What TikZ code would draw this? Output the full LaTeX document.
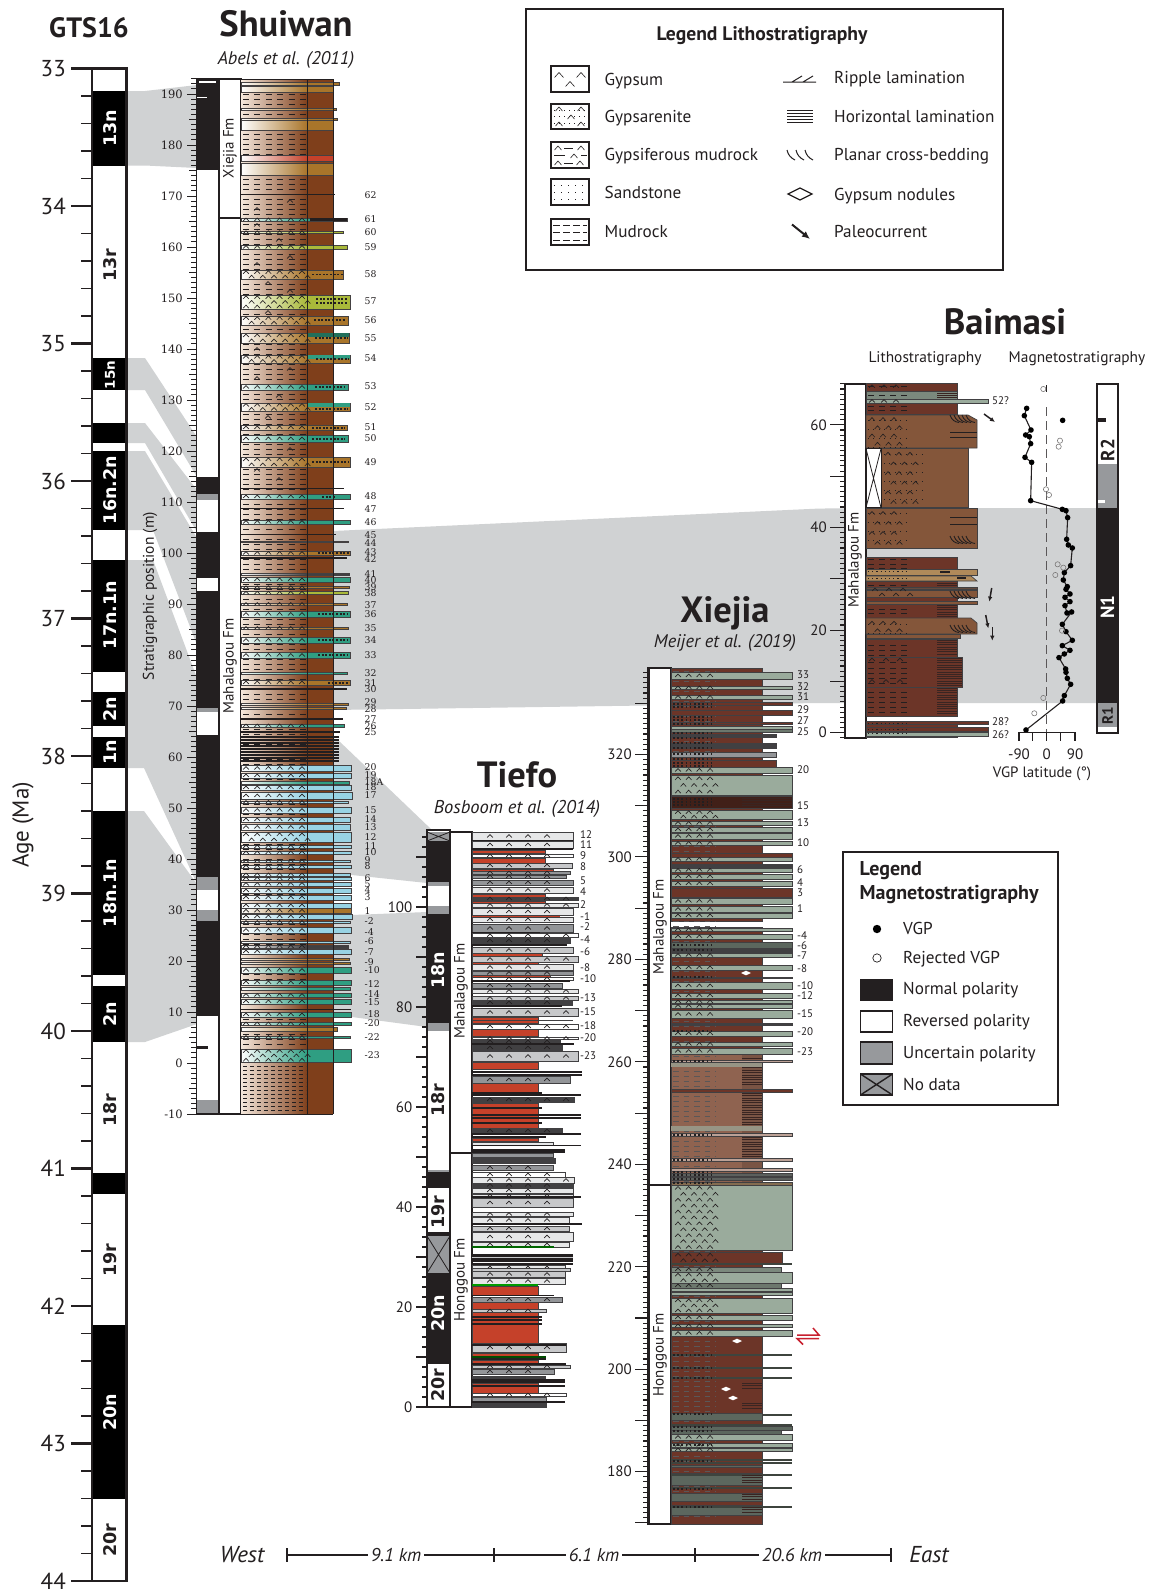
\documentclass[tikz,border=0pt]{standalone}
\usepackage{fontspec}
\setmainfont{PT Sans}
\newfontfamily\vfont{DejaVu Sans}
\newfontfamily\sfont{DejaVu Serif}
\usetikzlibrary{arrows.meta}
\definecolor{ink}{HTML}{231F20}
\definecolor{band}{HTML}{D0D2D3}
\definecolor{brS}{HTML}{7F3F1B}
\definecolor{brM}{HTML}{C99A72}
\definecolor{brL}{HTML}{F5E8DC}
\definecolor{tealS}{HTML}{2F9E82}
\definecolor{blueS}{HTML}{98D3E4}
\definecolor{ochre}{HTML}{A9752A}
\definecolor{limeS}{HTML}{A9B93A}
\definecolor{redS}{HTML}{C5412A}
\definecolor{sage}{HTML}{9AAB9C}
\definecolor{dkb}{HTML}{6C3528}
\definecolor{ltb}{HTML}{8F6350}
\definecolor{mdb}{HTML}{84563A}
\definecolor{tanb}{HTML}{B08A5A}
\definecolor{tl}{HTML}{E6E7E8}
\definecolor{tm}{HTML}{C7C8CA}
\definecolor{td}{HTML}{939598}
\definecolor{tk}{HTML}{414042}
\definecolor{pol}{HTML}{97999C}
\definecolor{faultr}{HTML}{C8202F}
\newcommand\fsz[1]{\fontsize{#1}{#1}\selectfont}
\tikzset{
 crt/.style={ink,line width=.65pt},
 lbl/.style={inner sep=0pt,text=ink},
 legt/.style={lbl,anchor=base west,font=\fsz{17.2}},
 legb/.style={lbl,anchor=base west,font=\bfseries\fsz{20}},
}
% carets: x0,step,xend,top,bot,rowh
\newcommand\carets[6]{%
 \pgfmathtruncatemacro\nr{max(1,round((#5-#4)/#6))}%
 \pgfmathsetmacro\rh{(#5-#4)/\nr}%
 \pgfmathsetmacro\xaa{#1}%
 \pgfmathsetmacro\xbb{\xaa+#2}%
 \pgfmathsetmacro\xee{#3}%
 \foreach \rr in {1,...,\nr}{%
  \pgfmathsetmacro\yy{#4+(\rr-0.5)*\rh}%
  \pgfmathsetmacro\ofs{mod(\rr,2)==0 ? #2/2 : 0}%
  \foreach \xx in {\xaa,\xbb,...,\xee}{%
   \draw[crt] (\xx+\ofs-2.8,\yy+1.5)--(\xx+\ofs,\yy-1.5)--(\xx+\ofs+2.8,\yy+1.5);
  }}}
\newcommand\lam[5]{\foreach \yy in {#3,#4,...,#5}{\draw[ink!70!dkb,line width=.45pt] (#1,\yy)--(#2,\yy);}}
% Shuiwan beds
\newcommand\sbed[4]{%
 \shade[left color=white,right color=#4] (241,#1) rectangle (307,#2);
 \fill[#4] (307,#1) rectangle (#3,#2);
 \draw[ink!85,line width=.6pt] (241,#1) rectangle (#3,#2);}
\newcommand\sbedg[4]{\sbed{#1}{#2}{#3}{#4}\carets{246}{11.2}{303}{#1}{#2}{5}}
\newcommand\sln[3]{\draw[ink,line width=#3pt] (241,#1)--(#2,#1);}
\newcommand\slab[2]{\node[lbl,anchor=west,font=\sfont\fsz{9.3}] (sw#1) at (364.5,#2) {#1};}
% Tiefo beds
\newcommand\tbed[4]{\filldraw[fill=#4,draw=tk,line width=.7pt] (472,#1) rectangle (#3,#2);}
\newcommand\tbedg[4]{\tbed{#1}{#2}{#3}{#4}\carets{490}{19}{#3-8}{#1}{#2}{8}}
\newcommand\tln[2]{\draw[ink,line width=1.1pt] (472,#1)--(#2,#1);}
\newcommand\tlab[2]{\node[lbl,anchor=west,font=\fsz{11}] (tf#1) at (580,#2) {#1};}
% Xiejia beds
\newcommand\xjb[4]{\filldraw[fill=#4,draw=tk,line width=.7pt] (671,#1) rectangle (#3,#2);}
\newcommand\xjbg[4]{\xjb{#1}{#2}{#3}{#4}\carets{678}{10.7}{712}{#1}{#2}{6}}
\newcommand\xjln[1]{\draw[sage!40!black,line width=1.8pt] (671,#1)--(792,#1);}
\newcommand\xlab[2]{\node[lbl,anchor=west,font=\fsz{11}] (xj#1) at (797,#2) {#1};}
\newcommand\dotrow[2]{\draw[ink,line width=1.1pt,dash pattern=on 1.6pt off 2.6pt] (673,#1)--(#2,#1);}
% Baimasi beds
\newcommand\bbd[4]{\filldraw[fill=#4,draw=tk,line width=.7pt] (866,#1) rectangle (#3,#2);}
\newcommand\xcross[4]{\foreach \xx in {#1,#2,...,#3}{\draw[ink,line width=.9pt] (\xx,#4) .. controls (\xx+1.5,#4+5) and (\xx+5,#4+7) .. (\xx+9,#4+7.5);}}
\begin{document}
\begin{tikzpicture}[x=1pt,y=-1pt]
\useasboundingbox (0,0) rectangle (1151,1591);
\fill[white] (0,0) rectangle (1151,1591);
%% correlation bands
\fill[band] (127,91)--(145,91)--(197,85)--(197,168)--(145,165.5)--(127,165.5)--cycle;
\fill[band] (127,358)--(145,358)--(197,437)--(197,477)--(145,390)--(127,390)--cycle;
\fill[band] (127,423)--(145,423)--(197,490)--(197,532)--(145,443)--(127,443)--cycle;
\fill[band] (127,451)--(145,451)--(197,538)--(197,645)--(153,530)--(127,530)--cycle;
\fill[band] (127,560)--(153,560)--(197,678)--(197,884)--(144,768)--(127,768)--cycle;
\fill[band] (127,811)--(144,811)--(197,884)--(197,1024)--(145,1042)--(127,1042)--cycle;
\fill[band] (333,531)--(820,508.5)--(1097,508)--(1097,703)--(820,703)--(333,710)--cycle;
\fill[band] (325,735)--(338,740)--(432,830)--(427,883)--(352,875)--(325,872)--cycle;
\fill[band] (325,916)--(352,915)--(427,912)--(427,1027)--(352,1017)--(325,1014)--cycle;
%% GTS column
\node[lbl,font=\bfseries\fsz{28}] (gtst) at (89,27.5) {GTS16};
\foreach \m in {33,...,44}{
 \pgfmathsetmacro\yy{68.5+(\m-33)*137.5}
 \draw[ink,line width=2.4pt] (71,\yy)--(92,\yy);
 \node[lbl,anchor=east,font=\fsz{23}] (age\m) at (66,\yy) {\m};
}
\foreach \k in {0,...,55}{
 \pgfmathsetmacro\yy{68.5+\k*27.5}
 \draw[ink,line width=1.6pt] (81,\yy)--(92,\yy);
}
\fill[white] (92,68.5) rectangle (126.5,1581);
\foreach \a/\b in {90.5/165.5,358/390,423/443,451/530,560/672,692/726,737/768,811/975,986/1042,1173/1194,1325/1499}{
 \fill[black] (92,\a) rectangle (126.5,\b);
}
\draw[ink,line width=2.6pt] (92,68.5) rectangle (126.5,1581);
\foreach \t/\y/\c in {13n/128/white,13r/265/ink,16n.2n/490/white,17n.1n/615/white,2n/709/white,1n/752/white,18n.1n/893/white,2n/1014/white,18r/1110/ink,19r/1260/ink,20n/1412/white,20r/1540/ink}{
 \node[inner sep=0pt,rotate=90,text=\c,font=\vfont\bfseries\fsz{17.5}] (gp\y) at (110,\y) {\t};
}
\node[inner sep=0pt,rotate=90,text=white,font=\vfont\bfseries\fsz{13.5}] (gp375) at (110,375) {15n};
\node[lbl,rotate=90,font=\fsz{23}] (agelab) at (23,825) {Age (Ma)};
%% Shuiwan
\node[lbl,font=\bfseries\fsz{36.5}] (swt) at (286,24) {Shuiwan};
\node[lbl,font=\itshape\fsz{18.3}] (swc) at (286,60) {Abels et al. (2011)};
\node[lbl,rotate=90,font=\fsz{15.5}] (strat) at (150,596) {Stratigraphic position (m)};
\foreach \m in {-10,...,193}{
 \pgfmathsetmacro\yy{1063-5.1*\m}
 \draw[ink,line width=1pt] (191,\yy)--(196.5,\yy);
}
\foreach \m in {-5,5,...,185}{
 \pgfmathsetmacro\yy{1063-5.1*\m}
 \draw[ink,line width=1pt] (189,\yy)--(196.5,\yy);
}
\foreach \m in {-10,0,...,190}{
 \pgfmathsetmacro\yy{1063-5.1*\m}
 \draw[ink,line width=1pt] (187,\yy)--(196.5,\yy);
 \node[lbl,anchor=east,font=\sfont\fsz{11.5}] (swa\m) at (183,\yy) {\m};
}
\fill[white] (196.5,79) rectangle (219,1114);
\foreach \a/\b in {79/170,477/494,532/578,591/708,735/877,921/1016}{
 \fill[ink] (196.5,\a) rectangle (219,\b);
}
\foreach \a/\b in {494/500,708/712,877/890,910/921,1100/1113}{
 \fill[pol] (196.5,\a) rectangle (219,\b);
}
\fill[white] (199,81) rectangle (216,82.5);
\fill[white] (197,96.5) rectangle (207,98);
\fill[ink] (197,1046) rectangle (208,1048.5);
\draw[ink,line width=1.8pt] (196.5,79) rectangle (219,1114);
\filldraw[fill=white,draw=ink,line width=1.8pt] (219,79) rectangle (241,1114);
\draw[ink,line width=1.8pt] (219,217.6)--(241,217.6);
\node[lbl,rotate=90,font=\fsz{15}] (swf1) at (230,148) {Xiejia Fm};
\node[lbl,rotate=90,font=\fsz{15}] (swf2) at (230,666) {Mahalagou Fm};
% lithology
\shade[left color=brL,middle color=brM,right color=brS] (241,79) rectangle (307,1114);
\fill[brS] (307,79) rectangle (333,1114);
\foreach \yy in {84,89,...,1060}{\draw[ink,line width=.8pt,dash pattern=on 6pt off 5.4pt] (243,\yy)--(306,\yy);}
\foreach \yy in {1066,1070,...,1112}{\draw[ink,line width=.9pt,dash pattern=on 4pt off 3pt] (243,\yy)--(306,\yy);}
\foreach \a/\b in {257/209,290/201,257/225,279/240,290/257,257/264,268/283,290/291,268/312,257/349,290/369,257/378,279/396,268/417,290/449,257/470,279/479}{
 \draw[crt] (\a-2.8,\b+1.5)--(\a,\b-1.5)--(\a+2.8,\b+1.5);
}
\sbed{82.5}{85.5}{339}{ochre}\sbed{86}{92}{333}{ochre}
\sbed{108}{110}{336}{ochre}\sbed{118}{120}{337}{ochre}\sbed{120}{130}{333}{ochre}
\sbed{155}{161}{333}{redS}\sbed{163}{175}{333}{ochre}
\sln{194}{335}{.8}
\sbedg{218}{221}{347}{tealS}\draw[ink,line width=3pt] (310,219.5)--(347,219.5);
\sbedg{231}{233.5}{343}{limeS}\sbedg{245}{249}{347}{limeS}
\sbedg{270}{279}{343}{ochre}\sbedg{295}{309}{350}{limeS}\sbedg{316}{325}{348}{ochre}
\sbedg{333}{343}{349}{ochre}\fill[tealS!70!black] (307,333) rectangle (349,336.5);
\sbedg{355}{363}{350}{ochre}\fill[tealS] (307,355) rectangle (350,358.5);
\sbedg{384}{390}{348}{tealS}\sbedg{403}{411}{350}{ochre}\fill[tealS] (307,403) rectangle (350,407);
\sbedg{425}{430}{347}{ochre}\sbedg{435}{442}{348}{tealS}\sbedg{457}{467}{350}{ochre}
\sln{488.5}{344}{.8}\sbedg{494}{499}{350}{tealS}\sln{508}{344}{.8}\sbedg{520}{524}{350}{tealS}
\sln{534.5}{336}{.9}\sbed{541}{542.5}{348}{tk}\sbedg{551}{555}{350}{ochre}\sln{558}{347}{1.2}
\sbed{573}{575}{349}{tk}\sbedg{577}{582}{350}{tealS}\sbedg{586}{588.5}{349}{ochre}\sbedg{591}{594.5}{348}{limeS}
\sbedg{603}{605}{347}{ochre}\sbedg{611}{617}{350}{tealS}\sbedg{627}{629}{348}{ochre}\sbedg{637}{643}{350}{tealS}
\sbedg{652}{658}{350}{tealS}\sbed{672}{674}{347}{tealS}\sbedg{680}{685}{350}{ochre}\sln{689}{347}{1.6}
\sbed{703}{705}{348}{ochre}\sbed{707}{709}{346}{ochre}\sln{719}{343}{1.2}\sbedg{724}{727}{344}{tealS}\sln{732}{340}{1.2}
\foreach \yy in {737,740,...,763}{\draw[ink,line width=1.2pt] (241,\yy)--(339,\yy);}
\sbedg{765}{771}{351}{blueS}\sbedg{773}{778}{351}{blueS}\sbed{781}{784}{349}{tealS}
\sbedg{785}{790}{351}{blueS}\sbedg{792}{799}{352}{blueS}\sbedg{801}{803}{348}{blueS}
\sbedg{807}{813}{351}{blueS}\sbedg{817}{822}{350}{blueS}\sbedg{824}{830}{350}{blueS}
\sbedg{832}{842}{351}{blueS}\sbedg{845}{848}{351}{blueS}\sbedg{851}{854}{351}{blueS}
\sbedg{860}{862}{350}{blueS}\sbedg{865}{868}{351}{blueS}\sbedg{873}{876}{350}{blueS}
\sbedg{877}{880}{351}{blueS}\sbedg{882}{886}{351}{blueS}\sbedg{888}{893}{351}{blueS}
\sbedg{895}{900}{351}{blueS}\sbedg{903}{908}{351}{blueS}\sbedg{908.5}{913}{351}{ochre}
\sbedg{914}{919}{352}{blueS}\sbedg{921}{923}{350}{blueS}\sbedg{927}{933}{351}{blueS}
\sbed{941}{943}{350}{blueS}\sbedg{945}{948}{348}{tk}\sbedg{949}{954}{351}{blueS}
\sbed{958}{960}{349}{ochre}\sbed{962}{964}{350}{ochre}\sbedg{967}{973}{351}{tealS}
\sbedg{980}{985}{351}{tealS}\sbed{987}{990}{350}{tealS}\sbedg{993}{997}{351}{tealS}\sbedg{999}{1004}{351}{tealS}
\sln{1009.5}{351}{1.2}\sbedg{1012}{1017}{351}{tealS}\sbedg{1022}{1025}{351}{tealS}\sbed{1027}{1031}{337}{ochre}
\sbedg{1036}{1038}{350}{tealS}\sbedg{1049}{1062}{351}{tealS}
\foreach \a/\b/\c in {274.5/312/343,299/316/347,303/316/347,320/314/346,338/315/348,359/316/349,387/315/345,409/315/348,428/312/345,439/312/345,462/312/349,497/322/336,553/318/349,614/318/348,640/318/348,655/318/348,683/328/348}{
 \draw[ink,line width=1.2pt,dash pattern=on 2pt off 1.6pt] (\b,\a)--(\c,\a);
}
\draw[ink,line width=.9pt] (307,79)--(307,1114);
\draw[ink,line width=.9pt] (241,79)--(333,79);
\draw[ink,line width=.9pt] (333,79)--(333,1114);
\draw[ink,line width=1pt] (241,1114)--(333,1114);
\slab{62}{195}\slab{61}{219}\slab{60}{232}\slab{59}{247}\slab{58}{274.5}\slab{57}{301}\slab{56}{320}\slab{55}{338}\slab{54}{358.6}\slab{53}{386.6}\slab{52}{407}\slab{51}{427.6}\slab{50}{438}\slab{49}{462}\slab{48}{496}\slab{47}{509}\slab{46}{522}\slab{45}{535.6}\slab{44}{543}\slab{43}{552.5}\slab{42}{559}\slab{41}{573.6}\slab{40}{580}\slab{39}{587.5}\slab{38}{593.5}\slab{37}{605}\slab{36}{614}\slab{35}{628}\slab{34}{640}\slab{33}{655}\slab{32}{673}\slab{31}{683}\slab{30}{689}\slab{29}{702.6}\slab{28}{709}\slab{27}{719}\slab{26}{726}\slab{25}{732}\slab{20}{767}\slab{19}{775.6}\slab{18A}{782.6}\slab{18}{787.6}\slab{17}{795}\slab{15}{810}\slab{14}{819}\slab{13}{827.6}\slab{12}{837}\slab{11}{846}\slab{10}{852}\slab{9}{860.6}\slab{8}{866}\slab{6}{878}\slab{5}{884}\slab{4}{890}\slab{3}{897}\slab{1}{911}\slab{-2}{921}\slab{-4}{932}\slab{-6}{941}\slab{-7}{952}\slab{-9}{962}\slab{-10}{970}\slab{-12}{984}\slab{-14}{994}\slab{-15}{1002}\slab{-18}{1014}\slab{-20}{1023}\slab{-22}{1037}\slab{-23}{1055}
%% Tiefo
\node[lbl,font=\bfseries\fsz{36.5}] (tft) at (517,775) {Tiefo};
\node[lbl,font=\itshape\fsz{18.5}] (tfc) at (517,809) {Bosboom et al. (2014)};
\foreach \m in {0,2,...,114}{
 \pgfmathsetmacro\yy{1407-5*\m}
 \draw[ink,line width=1.2pt] (422,\yy)--(427,\yy);
}
\foreach \m in {0,10,...,110}{
 \pgfmathsetmacro\yy{1407-5*\m}
 \draw[ink,line width=1.2pt] (416,\yy)--(427,\yy);
}
\foreach \m in {0,20,...,100}{
 \pgfmathsetmacro\yy{1407-5*\m}
 \node[lbl,anchor=east,font=\fsz{15}] (tfa\m) at (412.5,\yy) {\m};
}
\fill[white] (427,830) rectangle (450,1407);
\foreach \a/\b in {841/882,914/1023,1172/1188,1232/1236,1273/1364}{\fill[ink] (427,\a) rectangle (450,\b);}
\foreach \a/\b in {832/841,882/886,906/914,1023/1031,1170/1172,1236/1273}{\fill[pol] (427,\a) rectangle (450,\b);}
\draw[ink,line width=.8pt] (427,832)--(450,841) (427,841)--(450,832) (427,1236)--(450,1273) (427,1273)--(450,1236);
\draw[ink,line width=1.8pt] (427,830) rectangle (450,1407);
\foreach \t/\y/\c in {18n/970/white,18r/1100/ink,19r/1212/ink,20n/1313/white,20r/1385/ink}{
 \node[inner sep=0pt,rotate=90,text=\c,font=\vfont\bfseries\fsz{17.5}] (tfp\t) at (438.5,\y) {\t};
}
\filldraw[fill=white,draw=ink,line width=1.8pt] (450,832) rectangle (472,1407);
\draw[ink,line width=1.8pt] (450,1152.7)--(472,1152.7);
\node[lbl,rotate=90,font=\fsz{15}] (tff1) at (461,991) {Mahalagou Fm};
\node[lbl,rotate=90,font=\fsz{15}] (tff2) at (461,1280) {Honggou Fm};
\tbedg{832}{840}{573}{tl}\tln{840.5}{573}
\tbedg{841}{848}{573}{tl}\tln{849}{573}
\tbed{850}{853}{545}{redS}\tbedg{854}{857}{573}{white}
\tbed{858}{863}{545}{redS}\tbedg{863}{868}{572}{tm}
\tbed{869}{871}{553}{redS}\tbedg{871}{874}{570}{td}\tbedg{875}{878}{566}{td}
\tbedg{880}{885}{573}{td}\tbedg{887}{893}{573}{tl}\tbed{894}{897}{545}{redS}
\tbedg{897}{900}{578}{tk}\tbed{901}{903}{545}{redS}\tbedg{903}{907}{578}{tl}
\tbedg{908}{915}{573}{tl}\tbedg{917}{922}{573}{tl}\draw[redS,line width=.8pt] (472,916)--(560,916);
\tbedg{924}{932}{573}{td}\tln{933}{540}\tbedg{933.5}{937}{578}{white}
\tbedg{938}{943}{570}{tk}\tln{945}{567}\tbedg{947}{953}{573}{tm}\tbed{953}{956}{542}{redS}
\tbedg{956}{962}{578}{tm}\tbed{962}{964}{538}{redS}\tbedg{964}{970}{573}{tl}
\tbedg{971}{975}{573}{td}\tbed{975}{977}{550}{redS}\tbedg{977}{980}{573}{white}
\tln{981}{570}\tbedg{983}{988}{562}{td}\tbedg{989}{993}{578}{tl}\tbedg{996}{1000}{578}{tm}
\tbedg{1000}{1005}{572}{tk}\tln{1006}{562}\tbedg{1008}{1016}{578}{tm}
\tbed{1017}{1020}{538}{redS}\tbed{1020}{1023}{538}{redS}\draw[tk,line width=.8pt] (538,1020)--(573,1020);
\tbedg{1024}{1029}{578}{white}\tbed{1029}{1036}{538}{redS}\tbedg{1037}{1039}{578}{white}
\tbedg{1040}{1043}{560}{tk}\tln{1044}{574}\tbedg{1045}{1050}{562}{tk}
\tbedg{1051}{1061}{578}{tm}\tbed{1062}{1069}{538}{redS}
\draw[ink,line width=2.4pt] (472,1072)--(582,1072);\draw[ink,line width=1.2pt] (472,1075)--(582,1075);
\tbedg{1076}{1083}{570}{td}\tbed{1083}{1092}{538}{redS}
\tln{1093}{542}\tln{1095}{581}\tbedg{1097}{1102}{574}{tk}\tbed{1103}{1128}{538}{redS}
\tln{1108}{542}\tln{1115}{581}\tln{1118}{581}\tln{1123}{542}
\tbedg{1128}{1133}{562}{tk}\draw[ink,line width=2pt] (472,1134)--(581,1134);\tln{1137}{546}\tbed{1138}{1141}{538}{redS}
\tbed{1142}{1145}{553}{tl}\tln{1145.5}{581}\draw[ink,line width=4pt] (472,1150.5)--(565,1150.5);
\tbed{1153}{1157}{553}{td}\tbed{1158}{1163}{555}{tk}\tbedg{1165}{1170}{553}{td}
\tbedg{1172}{1177}{565}{white}\tbedg{1177}{1183}{574}{tl}\tbedg{1183}{1187}{573}{tk}
\tbedg{1188}{1193}{573}{tl}\tbedg{1194}{1197}{573}{tl}\tln{1197}{581}\tbedg{1198}{1207}{573}{tm}
\tbedg{1212}{1216}{573}{tl}\tbedg{1217}{1223}{569}{tl}\tln{1224}{582}\tbedg{1226}{1231}{569}{tm}
\tbedg{1232}{1241}{573}{tl}\tbedg{1242}{1247}{569}{tl}\draw[green!40!black,line width=1.4pt] (472,1247)--(554,1247);
\draw[ink,line width=8pt] (472,1257.5)--(573,1257.5);\draw[tm,line width=1pt] (472,1257)--(573,1257);
\tln{1264}{573}\tbedg{1265}{1270}{565}{tl}\tbed{1268}{1271}{570}{tm}\tbedg{1271}{1277}{565}{tm}\tbedg{1278}{1284}{565}{tl}
\draw[green!60!black,line width=1.6pt] (472,1285)--(538,1285);\tbed{1286}{1295}{538}{redS}
\tln{1295.5}{554}\tbedg{1297}{1302}{562}{td}\tbed{1302}{1309}{538}{redS}\tbedg{1309}{1312}{546}{tm}
\tbed{1312}{1343}{538}{redS}\tln{1317}{542}\tln{1320}{542}\tln{1324}{542}
\tbedg{1343}{1352}{566}{tm}\tln{1345}{566}\tbed{1353}{1358}{538}{redS}\draw[green!30!black,line width=1.4pt] (472,1357)--(546,1357);\tln{1359}{546}\tbed{1360}{1363}{538}{redS}
\tln{1364}{566}\tbedg{1365}{1368}{570}{tm}\tbedg{1369}{1374}{554}{td}
\draw[tk,line width=3pt] (472,1377)--(546,1377);\draw[ink,line width=4pt] (472,1380.5)--(565,1380.5);
\tbed{1383}{1393}{538}{redS}\tln{1386}{565}\tbedg{1393}{1396}{566}{white}
\tbed{1397}{1401}{546}{td}\tln{1402}{565}\tbed{1403}{1407}{546}{tk}
\tlab{12}{835}\tlab{11}{845}\tlab{9}{856}\tlab{8}{867}\tlab{5}{881}\tlab{4}{892}\tlab{2}{905}\tlab{-1}{917}\tlab{-2}{927}\tlab{-4}{940}\tlab{-6}{952}\tlab{-8}{968}\tlab{-10}{979}\tlab{-13}{998}\tlab{-15}{1012}\tlab{-18}{1026}\tlab{-20}{1038}\tlab{-23}{1056}
%% Xiejia
\node[lbl,font=\bfseries\fsz{36.5}] (xjt) at (725,613) {Xiejia};
\node[lbl,font=\itshape\fsz{18.3}] (xjc) at (725,643) {Meijer et al. (2019)};
\foreach \m in {170,...,336}{
 \pgfmathsetmacro\yy{1164.3+(240-\m)*5.123}
 \draw[ink,line width=1.1pt] (643,\yy)--(648,\yy);
}
\foreach \m in {170,180,...,330}{
 \pgfmathsetmacro\yy{1164.3+(240-\m)*5.123}
 \draw[ink,line width=1.1pt] (635,\yy)--(648,\yy);
}
\foreach \m in {180,200,...,320}{
 \pgfmathsetmacro\yy{1164.3+(240-\m)*5.123}
 \node[lbl,anchor=east,font=\fsz{15}] (xja\m) at (632,\yy) {\m};
}
\filldraw[fill=white,draw=ink,line width=2.2pt] (648.5,668) rectangle (671,1524);
\draw[ink,line width=2pt] (648.5,1185)--(671,1185);
\node[lbl,rotate=90,font=\fsz{15}] (xjf1) at (660,927) {Mahalagou Fm};
\node[lbl,rotate=90,font=\fsz{15}] (xjf2) at (660,1355) {Honggou Fm};
\fill[dkb] (671,668) rectangle (762,1524);
\fill[white] (671,922) rectangle (762,927);
\fill[ltb] (671,1055) rectangle (762,1185);
\fill[ltb!85!black] (742,1055) rectangle (762,1185);
\draw[tk,line width=.9pt] (671,668) rectangle (762,921.5);
\draw[tk,line width=.9pt] (671,927) rectangle (762,1524);
\foreach \yy in {671,676,...,1518}{\draw[ink!75,line width=.7pt,dash pattern=on 5.5pt off 5pt] (673,\yy)--(716,\yy);}
\lam{742}{762}{1058}{1060.4}{1086}\lam{742}{762}{1093}{1095.4}{1125}\lam{742}{762}{1137}{1139.4}{1157}\lam{742}{762}{1168}{1170.4}{1182}
\lam{742}{762}{1383}{1385.4}{1390}\lam{742}{762}{1403}{1405.4}{1408}
\xjbg{672}{679}{792}{sage}\xjbg{686}{689}{792}{sage}\xjbg{695}{699}{792}{sage}
\xjb{702}{705}{792}{dkb}\xjb{710}{715}{792}{dkb}\xjb{722}{724}{792}{dkb}\xjb{726}{729}{792}{sage}\xjb{729}{732}{792}{sage!70!black}
\xjb{734}{737}{776}{tk}\xjb{743}{748}{776}{tk}\xjb{752}{757}{776}{td}\xjb{760}{767}{776}{dkb}
\xjbg{767}{773}{792}{sage}\xjbg{775}{795}{792}{sage}\xjb{796}{808}{792}{dkb!60!black}
\lam{742}{792}{798}{800.5}{807}
\xjbg{810}{819}{792}{sage}\xjbg{821}{825}{792}{sage}\xjbg{827}{832}{792}{sage}\xjbg{833}{839}{792}{sage}\xjbg{841}{845}{792}{sage}
\xjb{853}{857}{792}{dkb}\xjbg{857}{861}{792}{sage}\xjb{864}{867}{792}{tk}\xjbg{868}{872}{792}{sage}\xjbg{874}{879}{792}{sage}\xjbg{881}{886}{792}{sage}
\xjb{888}{897}{792}{dkb}\xjbg{898}{904}{792}{sage}\xjbg{906}{912}{792}{sage}\xjbg{913}{918}{792}{sage}
\xjbg{928}{931}{792}{sage}\xjbg{934}{939}{792}{sage}\xjb{942}{948}{792}{sage!60!black}\xjb{949}{952}{792}{tk}\xjbg{953}{957}{792}{sage}
\xjbg{965}{970}{792}{sage}\xjb{977}{978.5}{792}{tk}\xjbg{982}{989}{792}{sage}\xjbg{993}{998}{792}{sage}\xjbg{1000}{1003}{792}{sage}\xjbg{1004}{1008}{792}{sage}\xjbg{1010}{1018}{792}{sage}
\xjb{1023}{1025}{792}{tk}\xjbg{1031}{1036}{792}{sage}\xjbg{1042}{1046}{792}{sage}\xjbg{1048}{1054}{792}{sage}
\xjb{1060}{1062.5}{792}{ltb!60!white}\fill[sage!70!ltb] (671,1063) rectangle (762,1067);
\xjb{1089}{1092}{792}{dkb}\fill[sage!70!ltb] (671,1126) rectangle (762,1131);
\xjb{1133}{1136}{792}{ltb!60!white}\xjb{1158}{1161}{792}{ltb!60!white}\xjb{1168}{1171}{792}{ltb!60!white}\xjb{1173}{1176}{792}{tk!70!sage}\xjb{1177}{1180}{792}{tk!70!sage}\xjb{1182}{1185}{792}{tanb!60!tk}
\xjbg{1185}{1250}{792}{sage}\xjbg{1252}{1263}{782}{dkb}\xjln{1264}\xjbg{1267}{1272}{781}{sage!80!black}\xjbg{1272}{1283}{792}{sage}\xjbg{1283}{1288}{781}{sage!70!black}
\xjb{1288}{1291}{792}{sage}\xjb{1292}{1295}{792}{sage}\xjbg{1298}{1313}{792}{sage}\xjbg{1315}{1320}{792}{sage}\xjbg{1324}{1327}{792}{sage}\xjbg{1330}{1336}{792}{sage}
\xjln{1355}\xjln{1368}\xjln{1378}\xjln{1415}\xjb{1413}{1420}{762}{sage!60!black}\xjln{1425}\xjb{1426}{1430}{792}{sage!60!black}\xjb{1430}{1434}{781}{sage!60!black}\xjbg{1434}{1440}{792}{sage}
\xjbg{1443}{1447}{792}{sage}\xjbg{1448}{1451}{792}{sage}\xjln{1460}\xjln{1463}\xjb{1465}{1467}{762}{sage!60!black}
\xjb{1473}{1485}{762}{sage!60!black}\xjln{1475}\xjln{1488}\xjb{1493}{1501}{762}{sage!60!black}\xjb{1505}{1515}{762}{sage!60!black}\xjln{1507}
\lam{742}{762}{1475}{1477.4}{1484}\lam{742}{762}{1494}{1496.4}{1500}\lam{742}{762}{1507}{1509.4}{1514}
\foreach \a in {704,707,717,720,724,733,738,743,748,754,759,763,766,799,802,805,945,950,977,1031,1061,1135,1160,1172,1175,1179,1183,1355,1368,1378,1414,1427,1431,1445,1461,1489,1507}{\dotrow{\a}{712}}
\foreach \a/\b in {737/1341,726/1389,733/1398,746/973}{
 \fill[white] (\a-5,\b)--(\a,\b-2.3)--(\a+5,\b)--(\a,\b+2.3)--cycle;
}
\draw[faultr,line width=1.5pt] (797,1335)--(819,1335)--(813,1328) (819,1338.5)--(797,1338.5)--(803,1344.5);
\xlab{33}{675}\xlab{32}{687}\xlab{31}{697}\xlab{29}{710}\xlab{27}{721}\xlab{25}{732}\xlab{20}{770}\xlab{15}{806}\xlab{13}{823}\xlab{10}{843}\xlab{6}{870}\xlab{4}{883}\xlab{3}{893}\xlab{1}{909}\xlab{-4}{936}\xlab{-6}{946}\xlab{-7}{956}\xlab{-8}{969}\xlab{-10}{986}\xlab{-12}{996}\xlab{-15}{1014}\xlab{-20}{1032}\xlab{-23}{1052}
%% Baimasi
\node[lbl,font=\bfseries\fsz{36.5}] (bmt) at (1005,322) {Baimasi};
\node[lbl,font=\fsz{15.4}] (bml) at (925,359) {Lithostratigraphy};
\node[lbl,font=\fsz{15.4}] (bmm) at (1077,359) {Magnetostratigraphy};
\foreach \m in {-1,...,68}{
 \pgfmathsetmacro\yy{732.7-5.13*\m}
 \draw[ink,line width=1.1pt] (840,\yy)--(845,\yy);
}
\foreach \m in {0,10,...,60}{
 \pgfmathsetmacro\yy{732.7-5.13*\m}
 \draw[ink,line width=1.1pt] (830,\yy)--(845,\yy);
}
\foreach \m in {0,20,40,60}{
 \pgfmathsetmacro\yy{732.7-5.13*\m}
 \node[lbl,anchor=east,font=\fsz{15}] (bma\m) at (827,\yy) {\m};
}
\filldraw[fill=white,draw=ink,line width=2pt] (845,384) rectangle (866,737.6);
\node[lbl,rotate=90,font=\fsz{15}] (bmf) at (855,560) {Mahalagou Fm};
\bbd{383.5}{391}{957}{dkb}\bbd{391}{399}{957}{sage!80!black}\bbd{399}{403}{988}{sage}
\carets{872}{12}{905}{383.5}{389}{6}
\bbd{403}{414}{957}{dkb}\carets{872}{12}{905}{399}{403}{4}
\filldraw[fill=mdb,draw=tk,line width=.7pt] (866,415)--(968,415)--(977,420)--(977,448)--(866,448)--cycle;
\bbd{448.7}{507.7}{968}{mdb}\bbd{508}{548}{977}{mdb}
\filldraw[fill=white,draw=ink,line width=.8pt] (866,448.7) rectangle (881,507.7);
\draw[ink,line width=.8pt] (866,448.7)--(881,507.7) (866,507.7)--(881,448.7);
\bbd{557}{569.5}{957}{dkb}\bbd{569.5}{575}{977}{tanb}\filldraw[fill=tanb,draw=tk,line width=.7pt] (866,576)--(971,576)--(977,581)--(866,581)--cycle;
\bbd{581}{587}{957}{dkb}\bbd{587}{589.5}{977}{tk!50!mdb}\bbd{590.7}{597}{977}{mdb}\bbd{597}{601.5}{957}{dkb}\bbd{601.5}{604}{977}{mdb}\bbd{604}{618}{957}{dkb}
\filldraw[fill=mdb,draw=tk,line width=.7pt] (866,618)--(971,618)--(977,623)--(977,634)--(866,634)--cycle;
\bbd{634}{638}{960}{mdb}\bbd{639}{657}{957}{dkb}\bbd{657}{687}{962}{dkb}\bbd{687}{716}{957}{dkb}
\bbd{721}{724}{988}{dkb}\bbd{724}{727.5}{957}{dkb}\bbd{727.5}{731}{988}{dkb}\bbd{732}{736}{988}{sage}\bbd{736}{737.6}{957}{dkb}
\foreach \a/\b/\c in {868/415/448,884/449/507,868/508/548,868/619/634}{
 \pgfmathsetmacro\xe{\a+36}
 \carets{\a+4}{11}{\xe}{\b}{\c}{9}
 \pgfmathsetmacro\yb{\b+5}\pgfmathsetmacro\yc{\b+14}
 \foreach \yy in {\yb,\yc,...,\c}{\draw[ink,line width=.8pt,dash pattern=on .9pt off 4.5pt] (\a,\yy)--(\xe+4,\yy);}
}
\foreach \yy in {386,395,406,410,559,564,568,585,609,613,645,650,655,662,668,673,678,683,692,697,702,707,712}{\draw[ink,line width=.7pt,dash pattern=on 6pt off 5pt] (868,\yy)--(910,\yy);}
\carets{875}{14}{905}{587}{597}{5}\carets{872}{14}{905}{657}{662}{5}\carets{872}{14}{905}{678}{684}{5}
\foreach \a in {571,578,723,729,733}{\draw[ink,line width=.9pt,dash pattern=on 1.2pt off 3pt] (868,\a)--(908,\a);}
\lam{937}{957}{393}{395.3}{398}\lam{937}{957}{640}{642.3}{656}\lam{937}{962}{658}{660.3}{686}\lam{937}{957}{688}{690.3}{715}\lam{937}{957}{605}{607.3}{617}\lam{937}{957}{583}{585.3}{587}
\draw[ink,line width=.6pt] (950,432)--(977,432) (950,437)--(977,437) (950,517)--(977,517) (950,524)--(977,524);
\xcross{950}{954}{968}{415}\xcross{950}{954}{968}{536}\xcross{950}{954}{968}{591}\xcross{950}{954}{968}{625}
\draw[ink,line width=1.2pt] (940,572)--(950,572) (957,578)--(966,578);
\node[lbl,anchor=west,font=\fsz{11}] (b52) at (992,401) {52?};
\node[lbl,anchor=west,font=\fsz{11}] (b28) at (992,722) {28?};
\node[lbl,anchor=west,font=\fsz{11}] (b26) at (992,735) {26?};
\foreach \a/\b/\c/\d in {984/414/995/422,991.7/588/989.3/601.7,985.7/615/988.3/628.3,992.3/627/992.3/640.7}{
 \draw[ink,line width=1.5pt,-{Latex[length=5pt,width=4.5pt]}] (\a,\b)--(\c,\d);
}
\begin{scope}[x=.3333pt,y=-.3333pt,xshift=820pt,yshift=-320pt]
\draw[ink!75,line width=.9pt,dash pattern=on 9pt off 5pt] (680,262)--(680,1237);
\draw[ink,line width=.9pt] (680,195)--(680,215);
\draw[ink,line width=1.1pt] (618,1230)--(728,1143)--(733,1127)--(752,1093)--(742,1075)--(738,1057)--(737,1047)--(717,1013)--(733,1002)--(750,991)--(727,977)--(757,961)--(738,935)--(727,913)--(755,876)--(741,879)--(735,857)--(750,845)--(735,832)--(750,822)--(738,808)--(742,800)--(730,780)--(733,758)--(752,737)--(757,684)--(745,675)--(740,658)--(743,593)--(738,572)--(727,568)--(632,542)--(635,427)--(615,412)--(632,371)--(628,350)--(617,345)--(633,330)--(613,287)--(620,265);
\foreach \a/\b in {618/1230,728/1143,733/1127,752/1093,742/1075,738/1057,737/1047,717/1013,733/1002,750/991,727/977,757/961,738/935,727/913,755/876,741/879,735/857,750/845,735/832,750/822,738/808,742/800,730/780,733/758,752/737,757/684,745/675,740/658,743/593,738/572,727/568,632/542,635/427,615/412,632/371,628/350,617/345,633/330,613/287,620/265,728/301}{
 \fill[black] (\a,\b) circle[radius=2.8pt];
}
\foreach \a/\b in {670/207,720/362,716/380,678/508,687/525,713/733,730/743,706/765,726/932,670/1134,643/1180}{
 \draw[ink!60,line width=.6pt] (\a,\b) circle[radius=2.6pt];
}
\draw[ink,line width=1.5pt] (597,1262)--(597,1237)--(765,1237)--(765,1262) (638,1237)--(638,1262) (680,1237)--(680,1262) (722,1237)--(722,1262);
\end{scope}
\node[lbl,font=\fsz{15}] (vg1) at (1019,754) {-90};
\node[lbl,font=\fsz{15}] (vg2) at (1046.7,754) {0};
\node[lbl,font=\fsz{15}] (vg3) at (1075,754) {90};
\node[lbl,font=\fsz{15}] (vgl) at (1042,774) {VGP latitude (°)};
\fill[white] (1097,384) rectangle (1118,732.7);
\fill[pol] (1097,464) rectangle (1118,508);
\fill[ink] (1097,508) rectangle (1118,703);
\fill[pol] (1097,703) rectangle (1118,727);
\fill[ink] (1097,418) rectangle (1106,422);
\fill[white] (1098,499.5) rectangle (1105,503);
\draw[ink,line width=1.7pt] (1097,384) rectangle (1118,732.7);
\node[lbl,rotate=90,font=\bfseries\fsz{19}] (r2) at (1107.5,450) {R2};
\node[inner sep=0pt,rotate=90,text=white,font=\bfseries\fsz{19}] (n1) at (1107.5,607) {N1};
\node[lbl,rotate=90,font=\bfseries\fsz{15}] (r1) at (1107.5,716) {R1};
%% Legend litho
\draw[ink,line width=2.2pt] (526,9.3) rectangle (1002.7,270);
\node[lbl,anchor=base,font=\bfseries\fsz{19.6}] (ll) at (762,40) {Legend Lithostratigraphy};
\foreach \a/\b in {66/92,104/129,142/168,179/205,219/245}{\draw[ink,line width=1.5pt] (551,\a) rectangle (589,\b);}
\foreach \a/\b in {559/75,570/84,581/75}{\draw[ink,line width=.6pt] (\a-4.5,\b+2.5)--(\a,\b-2.5)--(\a+4.5,\b+2.5);}
\foreach \a/\b in {559/109,571/117,581/109,559/124,581/124}{\draw[ink,line width=.6pt] (\a-3.5,\b+2)--(\a,\b-2)--(\a+3.5,\b+2);}
\foreach \a in {110,116,123}{\draw[ink,line width=.9pt,dash pattern=on 1pt off 4pt] (554,\a)--(587,\a);}
\foreach \a/\b in {558/148,581/148,574/156,558/163,580/163}{\draw[ink,line width=.6pt] (\a-3.5,\b+2)--(\a,\b-2)--(\a+3.5,\b+2);}
\draw[ink,line width=.6pt] (564,148)--(573,148) (554,155)--(565,155) (581,155)--(587,155) (564,163)--(573,163);
\foreach \a in {185,192,199}{\draw[ink,line width=.9pt,dash pattern=on 1pt off 6pt] (554,\a)--(587,\a);}
\foreach \a in {225,232,240}{\draw[ink,line width=.6pt,dash pattern=on 7pt off 3pt] (553,\a)--(587,\a);}
\node[legt] (l1) at (604.5,85) {Gypsum};
\node[legt] (l2) at (604.5,122) {Gypsarenite};
\node[legt] (l3) at (604.5,160) {Gypsiferous mudrock};
\node[legt] (l4) at (604.5,198) {Sandstone};
\node[legt] (l5) at (604.5,237) {Mudrock};
\node[legt] (l6) at (834,83) {Ripple lamination};
\node[legt] (l7) at (834,122) {Horizontal lamination};
\node[legt] (l8) at (834,160) {Planar cross-bedding};
\node[legt] (l9) at (834,200) {Gypsum nodules};
\node[legt] (l10) at (834,237) {Paleocurrent};
\draw[ink,line width=1pt] (783,82)--(816,82) (792,82)--(802,76) (803,82)--(813,76);
\draw[ink,line width=.5pt] (787,110.5)--(813,110.5) (787,113.5)--(813,113.5) (787,116.5)--(813,116.5) (787,119.5)--(813,119.5) (787,122.5)--(813,122.5);
\foreach \xx in {787,796,805}{\draw[ink,line width=1pt] (\xx,150) .. controls (\xx+1,155) and (\xx+4,158) .. (\xx+8,160);}
\draw[ink,line width=1.2pt] (788,194)--(800,188)--(812,194)--(800,200)--cycle;
\draw[ink,line width=2pt,-{Latex[length=8pt,width=7pt]}] (792,224.5)--(810,239);
%% Legend magneto
\draw[ink,line width=2.2pt] (843,852) rectangle (1058,1105);
\node[legb] (lm1) at (859.5,875) {Legend};
\node[legb] (lm2) at (859.5,899) {Magnetostratigraphy};
\fill[black] (877,929) circle[radius=4.2pt];
\draw[ink,line width=.7pt] (877,958) circle[radius=4.2pt];
\fill[ink] (860,979) rectangle (893,1001);
\draw[ink,line width=1.6pt] (860.5,1011) rectangle (892.5,1032);
\filldraw[fill=pol,draw=ink,line width=1.6pt] (860.5,1042) rectangle (892.5,1064);
\filldraw[fill=pol,draw=ink,line width=1.6pt] (860.5,1074) rectangle (892.5,1095);
\draw[ink,line width=1.4pt] (860.5,1074)--(892.5,1095) (860.5,1095)--(892.5,1074);
\node[legt] (m1) at (903,934) {VGP};
\node[legt] (m2) at (903,963) {Rejected VGP};
\node[legt] (m3) at (903,994.5) {Normal polarity};
\node[legt] (m4) at (903,1026.5) {Reversed polarity};
\node[legt] (m5) at (903,1058) {Uncertain polarity};
\node[legt] (m6) at (903,1090) {No data};
%% bottom scale
\node[lbl,font=\itshape\fsz{23}] (west) at (242,1555) {West};
\node[lbl,font=\itshape\fsz{23}] (east) at (929,1555) {East};
\coordinate (s0) at (287,1555);\coordinate (s1) at (494,1555);\coordinate (s2) at (695,1555);\coordinate (s3) at (891,1555);
\draw[ink,line width=1.1pt] (s0)--(s3);
\foreach \p in {s0,s1,s2,s3}{\draw[ink,line width=1.1pt] ([yshift=7pt]\p.center)--([yshift=-7pt]\p.center);}
\node[lbl,fill=white,inner xsep=3pt,font=\itshape\fsz{18.5}] (d1) at (396,1555) {9.1 km};
\node[lbl,fill=white,inner xsep=3pt,font=\itshape\fsz{18.5}] (d2) at (594,1555) {6.1 km};
\node[lbl,fill=white,inner xsep=3pt,font=\itshape\fsz{18.5}] (d3) at (792,1555) {20.6 km};
\end{tikzpicture}
\end{document}
